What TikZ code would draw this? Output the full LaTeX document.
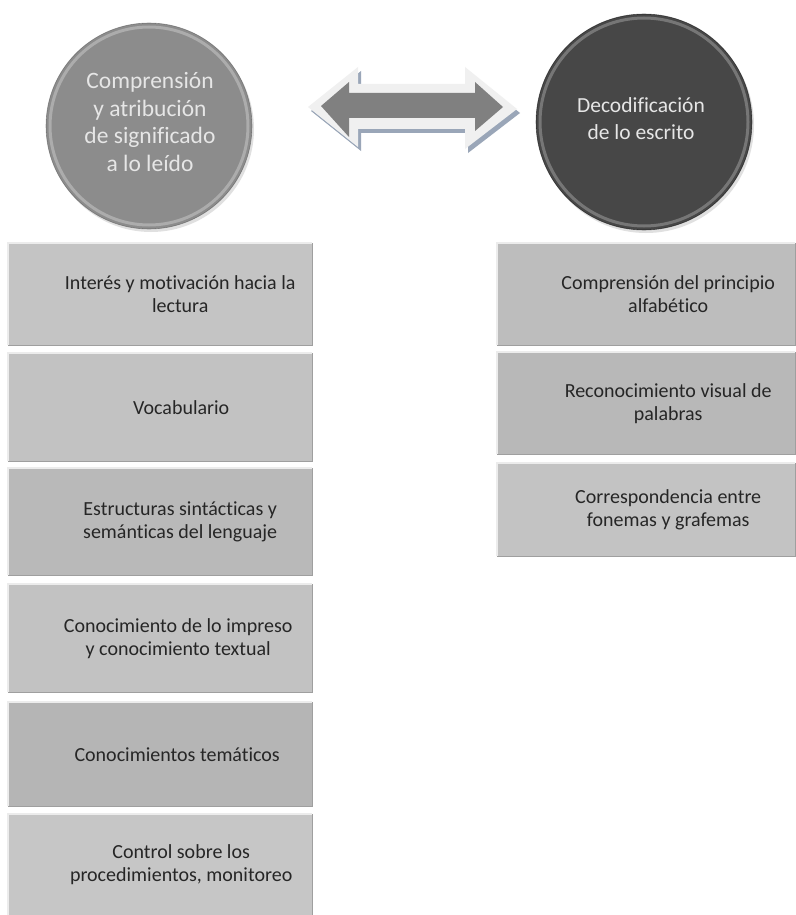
\documentclass[tikz,border=0pt]{standalone}
\usepackage{fontspec}
\setmainfont{Carlito}[Ligatures=NoCommon]
\definecolor{circA}{HTML}{8C8C8C}
\definecolor{circAring}{HTML}{B4B4B4}
\definecolor{circB}{HTML}{474747}
\definecolor{circBring}{HTML}{7C7C7C}
\definecolor{circtext}{HTML}{E6E6E6}
\definecolor{boxtext}{HTML}{262626}
\definecolor{arrowlight}{HTML}{F0F0F0}
\definecolor{arrowdark}{HTML}{808080}
\definecolor{arrowshadow}{HTML}{9AA6B8}
\begin{document}
\begin{tikzpicture}[x=1pt,y=-1pt,
  circlenode/.style={circle,inner sep=0pt,minimum size=#1},
  bigtext/.style={align=center,text=circtext},
  boxnode/.style={rectangle,inner sep=0pt,anchor=north west,draw=none},
  boxlabel/.style={font=\fontsize{20}{23}\selectfont,align=center,text=boxtext}
]
\useasboundingbox (0,0) rectangle (795,915);
\fill[white] (0,0) rectangle (795,915);

% ---- left circle
\fill[gray!40,opacity=0.6] (151,129) circle (103);
\node[circlenode=206pt,fill=circA] (cl) at (149,126) {};
\draw[circAring,line width=3pt,opacity=0.8] (cl.center) circle (99);
\draw[gray!60!black,line width=0.6pt,opacity=0.5] (cl.center) circle (103);
\node[bigtext,font=\fontsize{23.5}{27.5}\selectfont] (tl) at (150,122) {Comprensión\\y atribución\\de significado\\a lo leído};

% ---- right circle
\fill[gray!40,opacity=0.6] (646,125) circle (108);
\node[circlenode=216pt,fill=circB] (cr) at (644,122) {};
\draw[circBring,line width=3pt,opacity=0.9] (cr.center) circle (104);
\draw[black,line width=0.6pt,opacity=0.5] (cr.center) circle (108);
\node[bigtext,font=\fontsize{21.5}{27}\selectfont] (tr) at (641,119) {Decodificación\\de lo escrito};

% ---- double arrow
\fill[arrowshadow] (311,111) -- (361,71) -- (361,88) -- (468,88) -- (468,71) -- (520,113)
   -- (468,153) -- (468,133) -- (361,133) -- (361,151) -- cycle;
\fill[arrowlight] (308,107) -- (358,67) -- (358,84) -- (465,84) -- (465,67) -- (517,109)
   -- (465,149) -- (465,129) -- (358,129) -- (358,147) -- cycle;
\fill[arrowdark] (321,106) -- (349,82) -- (349,93) -- (475,93) -- (475,82) -- (503,107)
   -- (475,131) -- (475,118) -- (349,118) -- (349,137) -- cycle;

% ---- boxes
\foreach \nm/\x/\y/\w/\h/\col in {
  b1/8/243/304/102/C4C4C4, b2/8/353/304/108/C2C2C2, b3/8/468/304/107/B9B9B9,
  b4/8/584/304/108/C2C2C2, b5/8/702/304/104/B5B5B5, b6/8/814/304/101/C6C6C6,
  r1/497/243/298/102/BDBDBD, r2/497/352/298/102/B8B8B8, r3/497/463/298/93/C3C3C3}{
  \definecolor{tmpfill}{HTML}{\col}
  \node[boxnode,fill=tmpfill,minimum width=\w pt,minimum height=\h pt] (\nm) at (\x,\y) {};
  \draw[white!85!gray,line width=1.5pt] (\nm.south west) -- (\nm.north west) -- (\nm.north east);
  \draw[gray!75,line width=1.5pt] (\nm.north east) -- (\nm.south east) -- (\nm.south west);
}

\node[boxlabel] (l1) at ([xshift=20pt]b1.center) {Interés y motivación hacia la\\lectura};
\node[boxlabel] (l2) at ([xshift=21pt]b2.center) {Vocabulario};
\node[boxlabel] (l3) at ([xshift=20pt]b3.center) {Estructuras sintácticas y\\semánticas del lenguaje};
\node[boxlabel] (l4) at ([xshift=18pt]b4.center) {Conocimiento de lo impreso\\y conocimiento textual};
\node[boxlabel] (l5) at ([xshift=17pt]b5.center) {Conocimientos temáticos};
\node[boxlabel] (l6) at ([xshift=21pt]b6.center) {Control sobre los\\procedimientos, monitoreo};
\node[boxlabel] (m1) at ([xshift=22pt]r1.center) {Comprensión del principio\\alfabético};
\node[boxlabel] (m2) at ([xshift=22pt]r2.center) {Reconocimiento visual de\\palabras};
\node[boxlabel] (m3) at ([xshift=22pt]r3.center) {Correspondencia entre\\fonemas y grafemas};
\end{tikzpicture}
\end{document}
